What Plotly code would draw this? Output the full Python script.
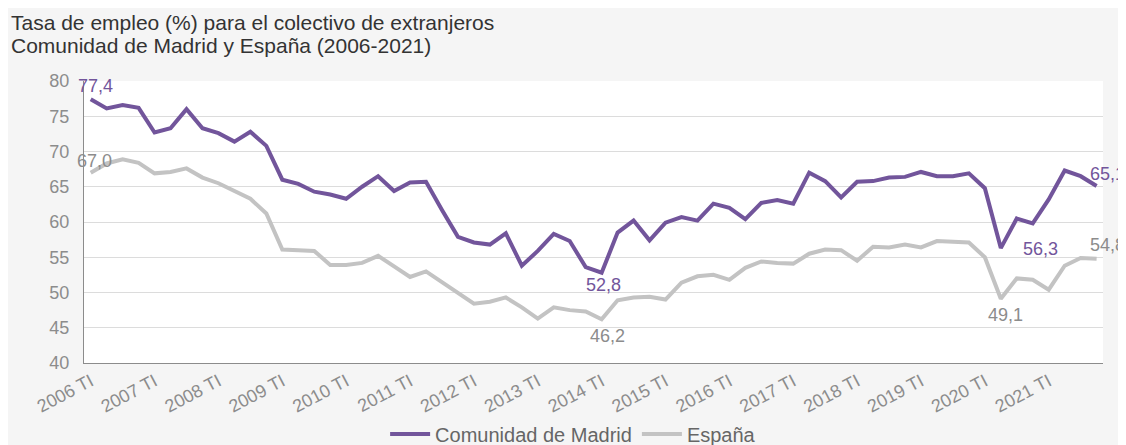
import plotly.graph_objects as go

years = list(range(2006, 2022))
quarters = ["TI", "TII", "TIII", "TIV"]
categories = [f"{y} {q}" for y in years for q in quarters]
tick_labels = [f"{y} TI" for y in years]

madrid = [77.4, 76.1, 76.6, 76.2, 72.7, 73.3, 76.0, 73.3,
          72.6, 71.4, 72.8, 70.8, 66.0, 65.4, 64.3, 63.9,
          63.3, 65.0, 66.5, 64.4, 65.6, 65.7, 61.7, 57.9,
          57.1, 56.8, 58.4, 53.8, 55.9, 58.3, 57.3, 53.6,
          52.8, 58.5, 60.2, 57.4, 59.9, 60.7, 60.2, 62.6,
          62.0, 60.4, 62.7, 63.1, 62.6, 67.0, 65.8, 63.5,
          65.7, 65.8, 66.3, 66.4, 67.1, 66.5, 66.5, 66.9,
          64.8, 56.3, 60.5, 59.8, 63.2, 67.3, 66.5, 65.1]

espana = [67.0, 68.3, 68.9, 68.4, 66.9, 67.1, 67.6, 66.3,
          65.5, 64.4, 63.3, 61.2, 56.1, 56.0, 55.9, 53.9,
          53.9, 54.2, 55.2, 53.7, 52.2, 53.0, 51.5, 50.0,
          48.4, 48.7, 49.3, 47.9, 46.3, 47.9, 47.5, 47.3,
          46.2, 48.9, 49.3, 49.4, 49.0, 51.4, 52.3, 52.5,
          51.8, 53.5, 54.4, 54.2, 54.1, 55.5, 56.1, 56.0,
          54.5, 56.5, 56.4, 56.8, 56.4, 57.3, 57.2, 57.1,
          55.0, 49.1, 52.0, 51.8, 50.4, 53.8, 54.9, 54.8]

title_lines = ["Tasa de empleo (%) para el colectivo de extranjeros",
               "Comunidad de Madrid y España (2006-2021)"]

# indices of labelled points
madrid_labels = [0, 32, 57, 63]
espana_labels = [0, 32, 57, 63]

PURPLE = "#72559b"
GREY = "#c3c3c3"
GREY_TXT = "#8c8c8c"
FONT = "Liberation Sans, Arial, sans-serif"

fig = go.Figure()
fig.add_trace(go.Scatter(x=categories, y=madrid, mode="lines", name="Comunidad de Madrid",
                         line=dict(color=PURPLE, width=4)))
fig.add_trace(go.Scatter(x=categories, y=espana, mode="lines", name="España",
                         line=dict(color=GREY, width=4)))

def fmt(v):
    return f"{v:.1f}".replace(".", ",")

# label placement offsets (pixels)
m_off = {0: dict(xshift=5, yshift=13, xanchor="center"),
         32: dict(xshift=2, yshift=-12, xanchor="center"),
         57: dict(xshift=20, yshift=-1, xanchor="left"),
         63: dict(xshift=-9, yshift=12, xanchor="left")}
e_off = {0: dict(xshift=4, yshift=12, xanchor="center"),
         32: dict(xshift=6, yshift=-17, xanchor="center"),
         57: dict(xshift=5, yshift=-16, xanchor="center"),
         63: dict(xshift=-9, yshift=14, xanchor="left")}

annotations = []
for i in madrid_labels:
    annotations.append(dict(x=categories[i], y=madrid[i], text=fmt(madrid[i]), showarrow=False,
                            font=dict(family=FONT, size=18, color=PURPLE), **m_off[i]))
for i in espana_labels:
    annotations.append(dict(x=categories[i], y=espana[i], text=fmt(espana[i]), showarrow=False,
                            font=dict(family=FONT, size=18, color=GREY_TXT), **e_off[i]))

for line, ypos in zip(title_lines, [1.209, 1.126]):
    annotations.append(dict(xref="paper", yref="paper", x=-0.073, y=ypos, xanchor="left", yanchor="middle",
                            align="left", showarrow=False, text=line, borderpad=0,
                            font=dict(family=FONT, size=21, color="#333333")))

fig.update_layout(
    width=1118, height=437,
    margin=dict(l=76, r=23, t=73, b=82, autoexpand=False),
    paper_bgcolor="#f5f5f5",
    plot_bgcolor="#ffffff",
    font=dict(family=FONT, color=GREY_TXT),
    showlegend=True,
    legend=dict(orientation="h", x=0.48, xanchor="center", y=-0.252, yanchor="middle",
                font=dict(family=FONT, size=20, color="#666666"), bgcolor="rgba(0,0,0,0)",
                itemwidth=40, tracegroupgap=0),
    annotations=annotations,
)
fig.update_xaxes(type="category", tickmode="array", tickvals=tick_labels, ticktext=tick_labels,
                 tickangle=-28, range=[-0.42, 63.4], showgrid=False, showline=True, automargin=False,
                 linecolor="#8c8c8c", linewidth=1, ticks="", tickfont=dict(family=FONT, size=18, color=GREY_TXT))
fig.update_yaxes(range=[40, 80], dtick=5, showgrid=True, gridcolor="#dcdcdc", gridwidth=1, automargin=False,
                 showline=True, linecolor="#8c8c8c", linewidth=1, ticks="", zeroline=False,
                 tickfont=dict(family=FONT, size=18, color=GREY_TXT), ticklabelstandoff=10)

fig.write_html("out.html")
